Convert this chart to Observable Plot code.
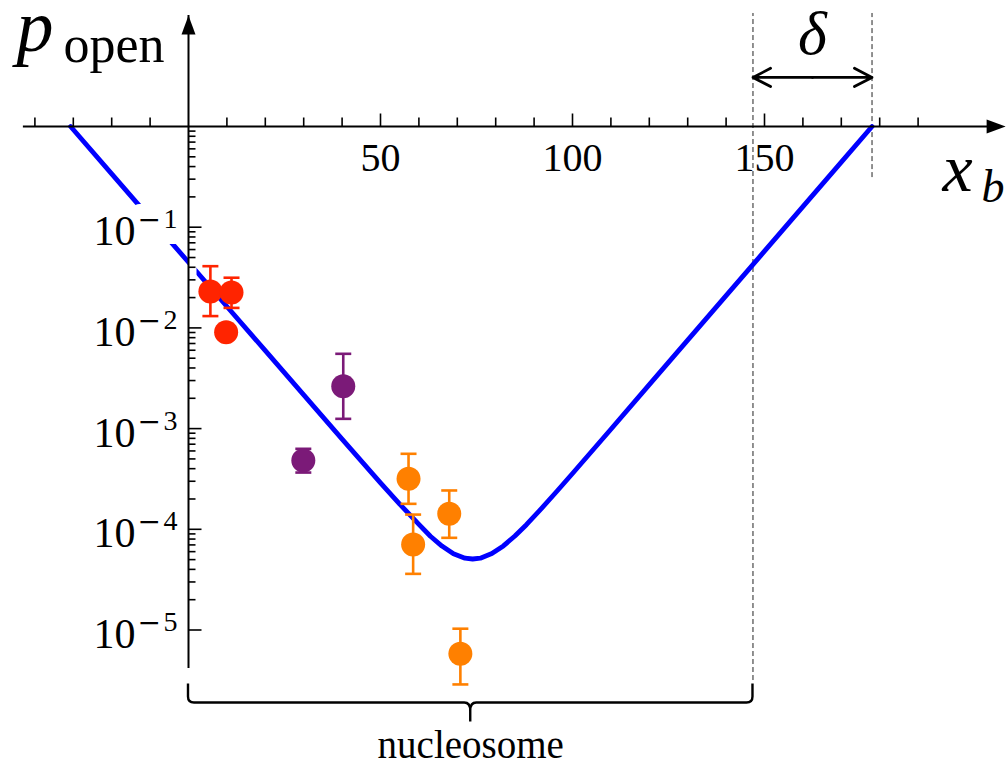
<!DOCTYPE html>
<html>
<head>
<meta charset="utf-8">
<script src="https://cdn.jsdelivr.net/npm/d3@7"></script>
<script src="https://cdn.jsdelivr.net/npm/@observablehq/plot@0.6"></script>
<style>
  html, body { margin: 0; padding: 0; background: #ffffff; }
  #chart svg { display: block; }
</style>
</head>
<body>
<div id="chart"></div>
<script>
// ---------------- data ----------------
// theory curve p_open(x_b)
const curveX = [-30.7, -20, -10, 0, 10, 20, 30, 40, 50, 55, 60, 63, 66, 69, 72, 74, 76, 79, 82, 85, 88, 92, 96, 100, 110, 120, 130, 140, 150, 160, 170, 178];
const curveP = [1.0, 0.339, 0.123, 0.0449, 0.0163, 0.00594, 0.00216, 7.87e-4, 2.89e-4, 1.78e-4, 1.12e-4, 8.53e-5, 6.81e-5, 5.72e-5, 5.17e-5, 5.07e-5, 5.17e-5, 5.74e-5, 6.84e-5, 8.57e-5, 1.11e-4, 1.62e-4, 2.40e-4, 3.58e-4, 9.86e-4, 2.73e-3, 7.55e-3, 0.0209, 0.0578, 0.160, 0.443, 1.0];

// measured points (red)
const redX  = [5.7, 11.2, 9.8];
const redP  = [0.0230, 0.0225, 0.00906];
const redLo = [0.0131, 0.0158, null];
const redHi = [0.041, 0.0315, null];

// measured points (purple)
const purpleX  = [29.9, 40.3];
const purpleP  = [4.82e-4, 2.64e-3];
const purpleLo = [3.66e-4, 1.25e-3];
const purpleHi = [6.3e-4, 5.53e-3];

// measured points (orange)
const orangeX  = [57.3, 58.5, 67.9, 70.8];
const orangeP  = [3.17e-4, 7.06e-5, 1.43e-4, 5.8e-6];
const orangeLo = [1.79e-4, 3.61e-5, 8.23e-5, 2.88e-6];
const orangeHi = [5.62e-4, 1.40e-4, 2.43e-4, 1.03e-5];

// axes / annotations
const xTickLabels = [50, 100, 150];
const yTickExponents = [-1, -2, -3, -4, -5];
const nucleosomeLength = 147;
const deltaEnd = 178;
const xAxisExtent = [-43, 212.8];
const yAxisExtent = [4.15e-6, 12.66];
const dashTop = 13.25, dashLeftBottom = 3.15e-6, dashRightBottom = 0.311;
const deltaArrowP = 3.07;

// ---------------- helpers ----------------
const serif = "'Liberation Serif', 'DejaVu Serif', serif";
const colors = {curve: "#0000ff", red: "#ff2400", purple: "#7b1a78", orange: "#ff8000"};

const rows = (X, P, Lo, Hi) => X.map((x, i) => ({x, p: P[i], lo: Lo[i], hi: Hi[i]}));
const red = rows(redX, redP, redLo, redHi);
const purple = rows(purpleX, purpleP, purpleLo, purpleHi);
const orange = rows(orangeX, orangeP, orangeLo, orangeHi);
const curve = curveX.map((x, i) => ({x, p: curveP[i]}));

const sym = (f) => ({draw(ctx) { f(ctx); }});
const tickUp = (len) => sym(ctx => { ctx.moveTo(0, 0); ctx.lineTo(0, -len); });
const tickRight = (len) => sym(ctx => { ctx.moveTo(0, 0); ctx.lineTo(len, 0); });
const capSym = sym(ctx => { ctx.moveTo(-8, 0); ctx.lineTo(8, 0); });
const arrowRight = sym(ctx => { ctx.moveTo(0, 0); ctx.lineTo(-19, -7); ctx.lineTo(-19, 7); ctx.closePath(); });
const arrowUp = sym(ctx => { ctx.moveTo(0, 0); ctx.lineTo(-7, 19); ctx.lineTo(7, 19); ctx.closePath(); });

const xMinor = d3.range(-40, 200, 10).filter(t => t !== 0 && t % 50 !== 0);
const xMajor = xTickLabels;
const yMajor = yTickExponents.map(e => 10 ** e);
const yMinor = [];
for (let k = -5; k <= -1; k++) for (let m = 2; m <= 9; m++) yMinor.push(m * 10 ** k);

function errorMarks(data, color) {
  const withErr = data.filter(d => d.lo != null);
  return [
    Plot.ruleX(withErr, {x: "x", y1: "lo", y2: "hi", stroke: color, strokeWidth: 2.6}),
    Plot.dot(withErr, {x: "x", y: "lo", symbol: capSym, fill: "none", stroke: color, strokeWidth: 2.6}),
    Plot.dot(withErr, {x: "x", y: "hi", symbol: capSym, fill: "none", stroke: color, strokeWidth: 2.6}),
    Plot.dot(data, {x: "x", y: "p", r: 12, fill: color, stroke: "none"})
  ];
}

function brace(...args) {
  const scales = args.find(a => a && typeof a === "object" && typeof a.x === "function" && typeof a.y === "function");
  const x0 = scales.x(0), x1 = scales.x(nucleosomeLength), xm = (x0 + x1) / 2;
  const base = scales.y(1e-5);
  const yTop = base + 54, yH = base + 73, yC = base + 92, r = 6;
  const d = `M${x0},${yTop} L${x0},${yH - r} Q${x0},${yH} ${x0 + r},${yH} L${xm - r},${yH} Q${xm},${yH} ${xm},${yH + r + 2} L${xm},${yC}` +
            ` M${xm},${yC} L${xm},${yH + r + 2} Q${xm},${yH} ${xm + r},${yH} L${x1 - r},${yH} Q${x1},${yH} ${x1},${yH - r} L${x1},${yTop}`;
  return d3.create("svg:path").attr("d", d).attr("fill", "none").attr("stroke", "black")
    .attr("stroke-width", 2.4).attr("stroke-linejoin", "round").node();
}

// y tick label pieces: base "10", minus sign and exponent digit
const yLabelParts = [
  {text: () => "10", textAnchor: "end", dx: -53, dy: 18, fontSize: 42, fontFamily: serif, halo: 14},
  {text: () => "\u2212", textAnchor: "start", dx: -51, dy: 2, fontSize: 28, fontFamily: "'DejaVu Serif', serif", halo: 30},
  {text: e => String(-e), textAnchor: "start", dx: -25, dy: 1, fontSize: 28, fontFamily: serif, halo: 32}
];
const yLabelMarks = (withHalo) => yLabelParts.map(({halo, ...o}) =>
  Plot.text(yTickExponents, {x: 0, y: e => 10 ** e, lineAnchor: "bottom", ...o,
    ...(withHalo ? {fill: "white", stroke: "white", strokeWidth: halo, strokeLinejoin: "round"} : {fill: "black"})}));

const chart = Plot.plot({
  width: 1006,
  height: 764,
  margin: 0,
  style: {background: "#ffffff", overflow: "visible"},
  x: {domain: [0, 150], range: [188, 764], axis: null},
  y: {type: "log", domain: [1, 1e-5], range: [126, 629.5], axis: null},
  marks: [
    // dashed guide lines
    Plot.ruleX([nucleosomeLength], {y1: dashLeftBottom, y2: dashTop, stroke: "#222", strokeWidth: 1, strokeDasharray: "5,3"}),
    Plot.ruleX([deltaEnd], {y1: dashRightBottom, y2: dashTop, stroke: "#222", strokeWidth: 1, strokeDasharray: "5,3"}),

    // theory curve
    Plot.line(curve, {x: "x", y: "p", stroke: colors.curve, strokeWidth: 4.8}),

    // white strip right of the y axis (ticks background)
    Plot.ruleX([0], {y1: 1, y2: 1e-5, dx: 4, stroke: "white", strokeWidth: 8}),

    // y tick labels: white background first, then the text
    ...yLabelMarks(true),
    ...yLabelMarks(false),

    // x axis
    Plot.ruleY([1], {x1: xAxisExtent[0], x2: xAxisExtent[1] - 3, stroke: "black", strokeWidth: 2}),
    Plot.dot([xAxisExtent[1]], {x: d => d, y: () => 1, symbol: arrowRight, fill: "black", stroke: "none"}),
    Plot.dot(xMinor, {x: d => d, y: () => 1, symbol: tickUp(9), fill: "none", stroke: "black", strokeWidth: 1.6}),
    Plot.dot(xMajor, {x: d => d, y: () => 1, symbol: tickUp(13), fill: "none", stroke: "black", strokeWidth: 1.6}),
    Plot.text(xTickLabels, {x: d => d, y: () => 1, text: d => String(d), textAnchor: "middle", lineAnchor: "bottom",
      dy: 44, fontSize: 40, fontFamily: serif, fill: "black"}),

    // y axis
    Plot.ruleX([0], {y1: yAxisExtent[0], y2: yAxisExtent[1], stroke: "black", strokeWidth: 2}),
    Plot.dot([yAxisExtent[1]], {x: () => 0, y: d => d, symbol: arrowUp, fill: "black", stroke: "none"}),
    Plot.dot(yMinor, {x: () => 0, y: d => d, symbol: tickRight(7), fill: "none", stroke: "black", strokeWidth: 1.6}),
    Plot.dot(yMajor, {x: () => 0, y: d => d, symbol: tickRight(13), fill: "none", stroke: "black", strokeWidth: 1.6}),

    // delta double arrow
    Plot.arrow([0], {x1: () => (nucleosomeLength + deltaEnd) / 2, x2: () => nucleosomeLength, y1: () => deltaArrowP, y2: () => deltaArrowP,
      stroke: "black", strokeWidth: 2.8, headLength: 11, headAngle: 55}),
    Plot.arrow([0], {x1: () => (nucleosomeLength + deltaEnd) / 2, x2: () => deltaEnd, y1: () => deltaArrowP, y2: () => deltaArrowP,
      stroke: "black", strokeWidth: 2.8, headLength: 11, headAngle: 55}),
    Plot.text(["\u03b4"], {x: () => (nucleosomeLength + deltaEnd) / 2, frameAnchor: "top", text: d => d, textAnchor: "middle",
      lineAnchor: "bottom", dy: 53, fontSize: 62, fontStyle: "italic", fontFamily: serif, fill: "black"}),

    // measured points
    ...errorMarks(red, colors.red),
    ...errorMarks(purple, colors.purple),
    ...errorMarks(orange, colors.orange),

    // brace + nucleosome label
    brace,
    Plot.text(["nucleosome"], {x: () => nucleosomeLength / 2, frameAnchor: "bottom", text: d => d, textAnchor: "middle",
      lineAnchor: "bottom", dy: -7, fontSize: 39, fontFamily: serif, fill: "black"}),

    // axis titles
    Plot.text(["p"], {frameAnchor: "top-left", text: d => d, textAnchor: "start", lineAnchor: "bottom",
      dx: 16, dy: 50, fontSize: 74, fontStyle: "italic", fontFamily: serif, fill: "black"}),
    Plot.text(["open"], {frameAnchor: "top-left", text: d => d, textAnchor: "start", lineAnchor: "bottom",
      dx: 63, dy: 61, fontSize: 52, fontFamily: serif, fill: "black", letterSpacing: 3}),
    Plot.text(["x"], {frameAnchor: "top-left", text: d => d, textAnchor: "start", lineAnchor: "bottom",
      dx: 942, dy: 190, fontSize: 68, fontStyle: "italic", fontFamily: serif, fill: "black"}),
    Plot.text(["b"], {frameAnchor: "top-left", text: d => d, textAnchor: "start", lineAnchor: "bottom",
      dx: 981, dy: 201, fontSize: 46, fontStyle: "italic", fontFamily: serif, fill: "black"})
  ]
});

document.getElementById("chart").appendChild(chart);
</script>
</body>
</html>
